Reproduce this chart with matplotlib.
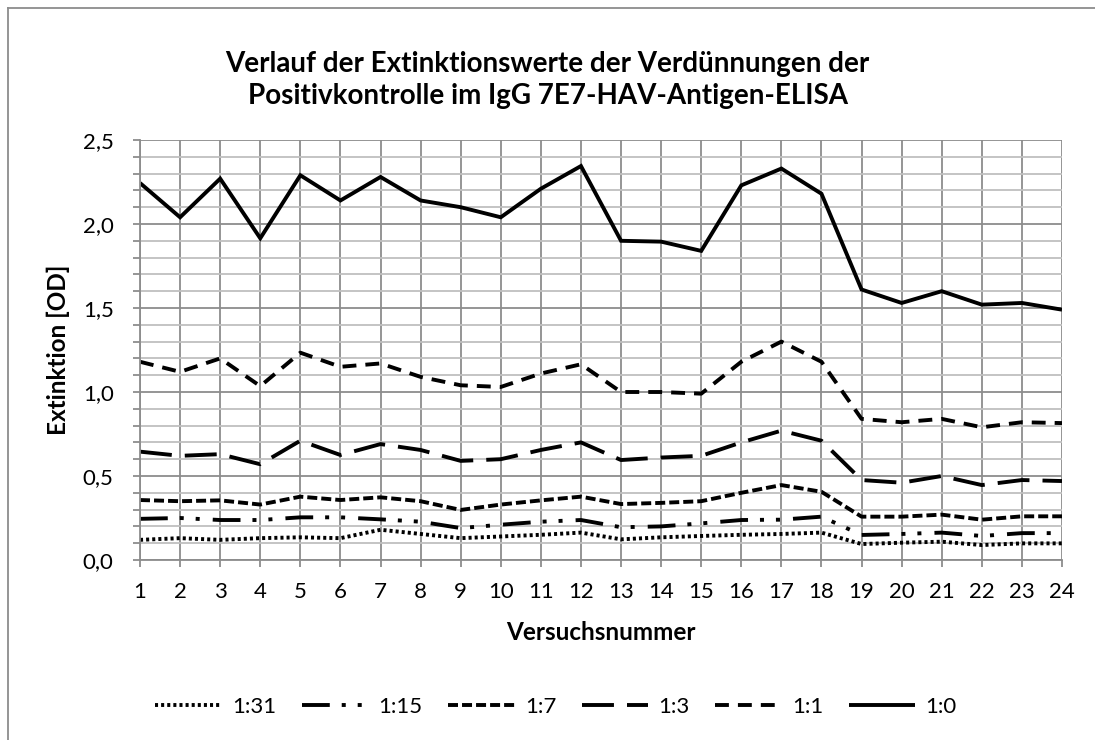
import matplotlib
matplotlib.use("Agg")
import matplotlib.pyplot as plt
from matplotlib.lines import Line2D
from matplotlib.ticker import MultipleLocator, FuncFormatter

plt.rcParams['font.family'] = ['Lato', 'DejaVu Sans']
plt.rcParams['lines.scale_dashes'] = False

versuche = list(range(1, 25))
labels = ["1:31", "1:15", "1:7", "1:3", "1:1", "1:0"]

v_1_31 = [0.12, 0.13, 0.12, 0.13, 0.135, 0.13, 0.18, 0.155, 0.13, 0.14, 0.15, 0.163,
          0.123, 0.135, 0.143, 0.15, 0.155, 0.163, 0.095, 0.103, 0.109, 0.089, 0.099, 0.099]
v_1_15 = [0.245, 0.25, 0.238, 0.238, 0.254, 0.254, 0.242, 0.228, 0.19, 0.21, 0.228, 0.238,
          0.195, 0.20, 0.218, 0.238, 0.24, 0.258, 0.149, 0.155, 0.163, 0.143, 0.16, 0.16]
v_1_7 = [0.357, 0.35, 0.355, 0.33, 0.377, 0.357, 0.373, 0.35, 0.298, 0.33, 0.355, 0.377,
         0.333, 0.34, 0.35, 0.40, 0.446, 0.406, 0.258, 0.258, 0.27, 0.24, 0.26, 0.26]
v_1_3 = [0.645, 0.62, 0.63, 0.57, 0.71, 0.625, 0.69, 0.655, 0.59, 0.60, 0.655, 0.70,
         0.595, 0.61, 0.62, 0.70, 0.77, 0.71, 0.476, 0.46, 0.50, 0.446, 0.476, 0.47]
v_1_1 = [1.18, 1.12, 1.20, 1.035, 1.234, 1.15, 1.17, 1.09, 1.04, 1.03, 1.11, 1.165,
         1.00, 1.00, 0.99, 1.18, 1.30, 1.18, 0.84, 0.82, 0.84, 0.79, 0.82, 0.815]
v_1_0 = [2.244, 2.04, 2.27, 1.915, 2.29, 2.14, 2.28, 2.14, 2.10, 2.04, 2.21, 2.345,
         1.90, 1.895, 1.84, 2.23, 2.33, 2.18, 1.61, 1.53, 1.60, 1.52, 1.53, 1.49]

series = [v_1_31, v_1_15, v_1_7, v_1_3, v_1_1, v_1_0]
styles = [
    (0, (2.2, 2.2)),
    (0, (20, 8.6, 2.9, 8.6, 2.9, 9.4)),
    (0, (7.2, 2.9)),
    (0, (23, 9.4)),
    (0, (10, 6.5)),
    '-',
]

fig = plt.figure(figsize=(10.95, 7.4), dpi=100)
ax = fig.add_axes([140/1095, 1-560/740, (1062-140)/1095, 420/740])

ax.set_xlim(1, 24)
ax.set_ylim(0, 2.5)
ax.xaxis.set_major_locator(MultipleLocator(1))
ax.yaxis.set_major_locator(MultipleLocator(0.5))
ax.yaxis.set_minor_locator(MultipleLocator(0.1))
ax.yaxis.set_major_formatter(FuncFormatter(lambda v, p: f"{v:.1f}".replace('.', ',')))

ax.grid(True, which='major', axis='both', color='#8c8c8c', linewidth=1.3)
ax.grid(True, which='minor', axis='y', color='#bfbfbf', linewidth=1.3)
ax.set_axisbelow(True)

for s in ['top', 'right']:
    ax.spines[s].set_visible(False)
for s in ['left', 'bottom']:
    ax.spines[s].set_color('#8c8c8c')
    ax.spines[s].set_linewidth(1.3)

ax.tick_params(axis='both', which='major', direction='out', color='#8c8c8c', width=1.3,
               labelsize=16, labelcolor='black', length=5)
ax.tick_params(axis='x', which='major', pad=11)
ax.tick_params(axis='y', which='major', pad=14)
ax.tick_params(axis='y', which='minor', length=5, color='#8c8c8c', width=1.3, direction='out')

for vals, ls, lab in zip(series, styles, labels):
    ax.plot(versuche, vals, color='black', linewidth=2.8, linestyle=ls,
            dash_capstyle='butt', solid_capstyle='butt', solid_joinstyle='miter', label=lab)

fig.text(601/1095, 1-633/740, "Versuchsnummer", fontsize=17.5, fontweight='bold',
         ha='center', va='center')
fig.text(58/1095, 1-350/740, "Extinktion [OD]", fontsize=17.5, fontweight='bold',
         ha='center', va='center', rotation=90)

fig.text(0.5, 1-80/740, "Verlauf der Extinktionswerte der Verdünnungen der\nPositivkontrolle im IgG 7E7-HAV-Antigen-ELISA",
         ha='center', va='center', fontsize=20, fontweight='bold', linespacing=1.28)

leg = fig.legend(loc='center', bbox_to_anchor=(556/1095, 1-707/740), ncol=6, frameon=False,
                 fontsize=16, handlelength=3.0, handletextpad=0.45, columnspacing=1.15)

# outer chart frame (left and top edges visible)
fig.add_artist(Line2D([8/1095, 8/1095], [0, 1-8/740], transform=fig.transFigure, color='#8c8c8c', linewidth=1.3))
fig.add_artist(Line2D([8/1095, 1], [1-8/740, 1-8/740], transform=fig.transFigure, color='#8c8c8c', linewidth=1.3))

fig.savefig("out.png", dpi=100)
